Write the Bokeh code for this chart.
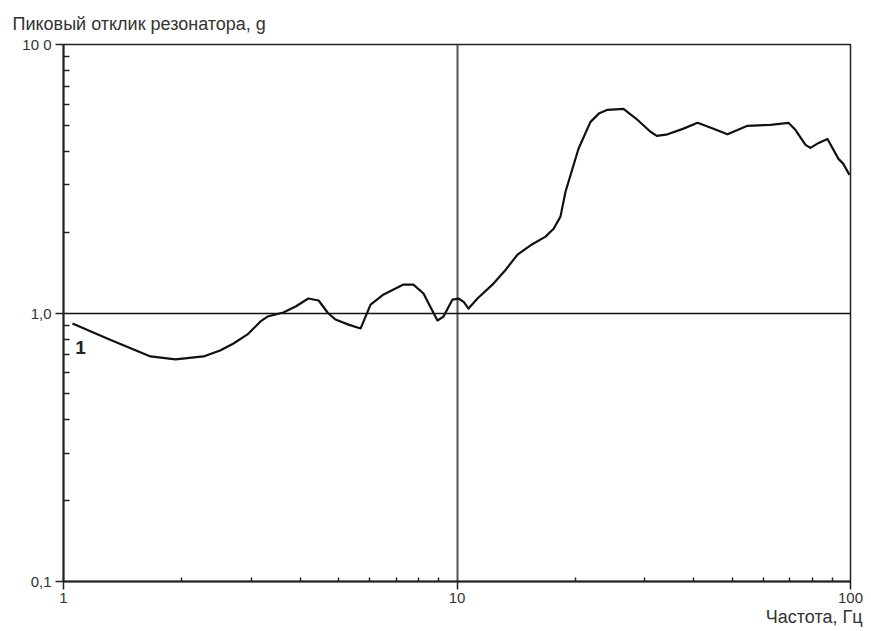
from bokeh.plotting import figure
from bokeh.models import Range1d, FixedTicker, Label, CustomJSTickFormatter, Title
from bokeh.embed import file_html
from bokeh.resources import INLINE

# data
freq = [1.054, 1.30, 1.664, 1.926, 2.269, 2.50, 2.704, 2.935, 3.167, 3.30, 3.62, 3.90, 4.19, 4.45,
        4.70, 4.91, 5.30, 5.69, 6.03, 6.51, 7.31, 7.75, 8.22, 8.60, 8.92, 9.24, 9.74, 10.09,
        10.40, 10.70, 11.27, 12.38, 13.3, 14.25, 15.5, 16.79, 17.6, 18.32, 18.87, 19.6, 20.36,
        21.84, 23.0, 24.13, 26.49, 28.5, 31.02, 32.2, 34.28, 37.5, 40.86, 44.5,
        48.68, 54.72, 62.62, 69.56, 72.5, 76.84, 79.1, 83.0, 87.4, 93.2, 95.8, 99.4]
resp = [0.914, 0.800, 0.689, 0.672, 0.689, 0.725, 0.770, 0.832, 0.930, 0.970, 1.004, 1.060, 1.132, 1.113,
        1.000, 0.946, 0.905, 0.876, 1.075, 1.172, 1.276, 1.276, 1.182, 1.040, 0.938, 0.970, 1.122, 1.132,
        1.100, 1.039, 1.132, 1.287, 1.450, 1.650, 1.800, 1.925, 2.060, 2.285, 2.83, 3.40, 4.09,
        5.15, 5.55, 5.71, 5.76, 5.30, 4.73, 4.57, 4.63, 4.85, 5.11, 4.88,
        4.63, 4.98, 5.02, 5.11, 4.80, 4.23, 4.12, 4.30, 4.45, 3.75, 3.60, 3.27]

x_ticks = [1, 10, 100]
x_tick_labels = ["1", "10", "100"]
x_minor = [2, 3, 4, 5, 6, 7, 8, 9, 20, 30, 40, 50, 60, 70, 80, 90]
y_ticks = [0.1, 1, 10]
y_tick_labels = ["0,1", "1,0", "10 0"]
y_minor = [0.2, 0.3, 0.4, 0.5, 0.6, 0.7, 0.8, 0.9, 2, 3, 4, 5, 6, 7, 8, 9]
title_text = "Пиковый отклик резонатора, g"
x_label = "Частота, Гц"
curve_label = "1"

FONT = "Liberation Sans"
TXT = "#333333"

p = figure(width=871, height=631, x_axis_type="log", y_axis_type="log",
           x_range=Range1d(1, 100), y_range=Range1d(0.1, 10),
           output_backend="svg", toolbar_location=None,
           min_border_left=63, min_border_right=21, min_border_top=43, min_border_bottom=50)
p.outline_line_color = "#222222"
p.outline_line_width = 1.5
p.background_fill_color = "white"

p.title = Title(text=title_text, align="left", offset=-51, standoff=22, text_font=FONT,
                text_font_size="18px", text_font_style="normal", text_color=TXT)
p.add_layout(Title(text=x_label, align="right", offset=-12, standoff=-1, text_font=FONT,
                   text_font_size="18px", text_font_style="normal", text_color=TXT), "below")

# axes
p.xaxis.ticker = FixedTicker(ticks=x_ticks, minor_ticks=x_minor)
p.yaxis.ticker = FixedTicker(ticks=y_ticks, minor_ticks=y_minor)
for ax in (p.xaxis, p.yaxis):
    ax.major_label_text_font = FONT
    ax.major_label_text_font_size = "15px"
    ax.major_label_text_color = TXT
    ax.axis_line_color = "#222222"
    ax.axis_line_width = 2
    ax.major_tick_in = 0
    ax.major_tick_out = 8
    ax.major_tick_line_color = "#222222"
    ax.major_tick_line_width = 1.5
    ax.minor_tick_out = 0
    ax.minor_tick_line_color = "#222222"
    ax.minor_tick_line_width = 1.5
p.xaxis.major_label_standoff = 3
p.yaxis.major_label_standoff = 4
p.xaxis.minor_tick_in = 4
p.yaxis.minor_tick_in = 6


def fmt(vals, labs):
    return CustomJSTickFormatter(code=(
        "const labs = %s; const vals = %s; for (let i = 0; i < vals.length; i++) "
        "{ if (Math.abs(Math.log10(tick) - Math.log10(vals[i])) < 1e-6) return labs[i]; } return '';"
    ) % (str(labs), str(vals)))


p.xaxis.formatter = fmt(x_ticks, x_tick_labels)
p.yaxis.formatter = fmt(y_ticks, y_tick_labels)

# grid only at 10 Hz and 1,0 g
p.xgrid.ticker = FixedTicker(ticks=[x_ticks[1]])
p.ygrid.ticker = FixedTicker(ticks=[y_ticks[1]])
p.xgrid.grid_line_color = "#555555"
p.xgrid.grid_line_width = 2
p.ygrid.grid_line_color = "#111111"
p.ygrid.grid_line_width = 1.5

p.line(freq, resp, line_color="#111111", line_width=2.2, line_join="round")

p.add_layout(Label(x=1.105, y=0.744, text=curve_label, text_font=FONT, text_font_size="19px",
                   text_font_style="bold", text_color="#222222", text_baseline="middle", text_align="center"))

open("out.html", "w").write(file_html(p, INLINE))
